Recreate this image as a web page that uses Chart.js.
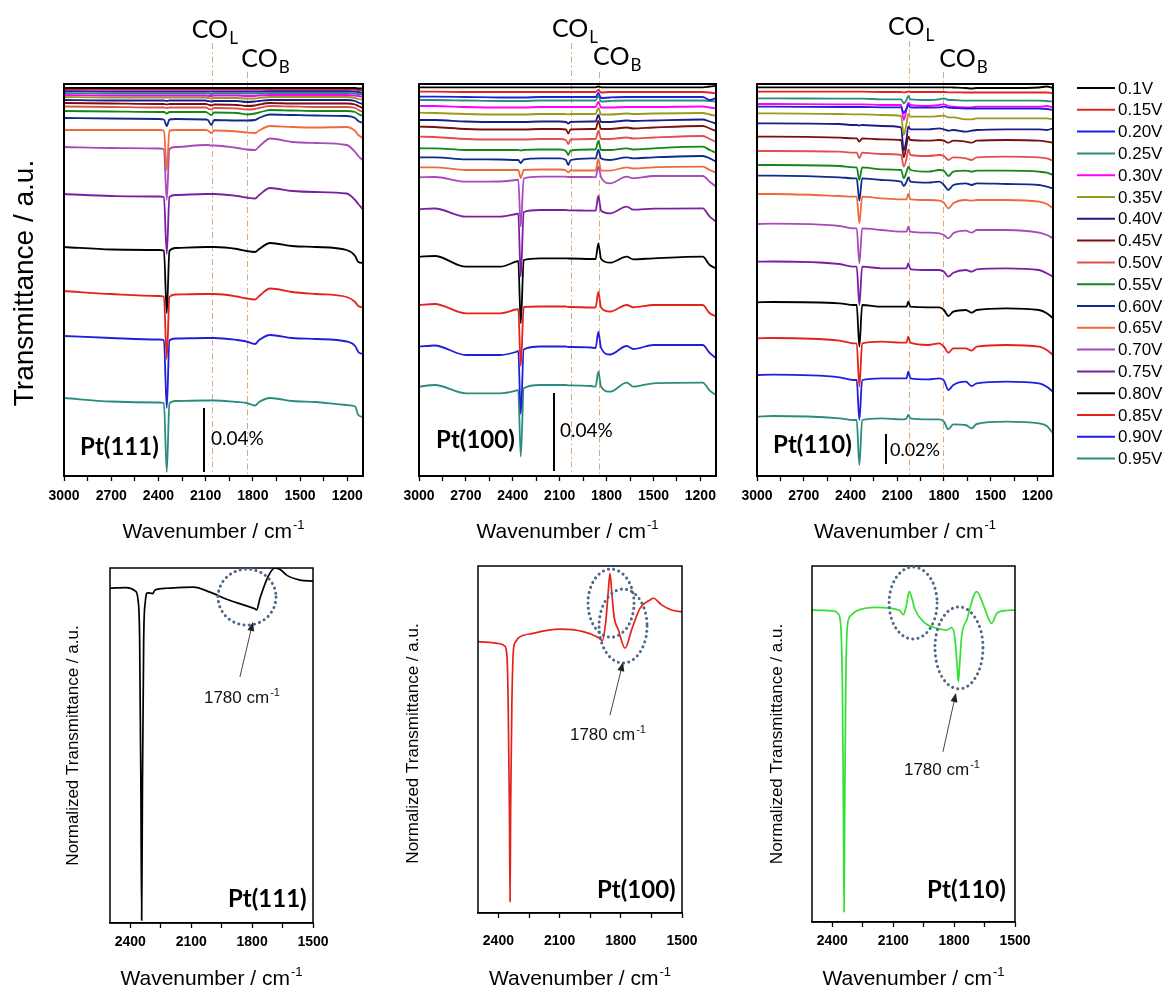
<!DOCTYPE html>
<html>
<head>
<meta charset="utf-8">
<script src="https://cdn.jsdelivr.net/npm/chart.js@4.4.1/dist/chart.umd.min.js"></script>
<style>
  html, body { margin: 0; padding: 0; background: #fff; }
  #wrap { position: relative; width: 1164px; height: 996px; overflow: hidden; }
  #wrap canvas { position: absolute; left: 0; top: 0; }
</style>
</head>
<body>
<div id="wrap">
  <canvas id="t111" width="1164" height="996"></canvas>
  <canvas id="t100" width="1164" height="996"></canvas>
  <canvas id="t110" width="1164" height="996"></canvas>
  <canvas id="n111" width="1164" height="996"></canvas>
  <canvas id="n100" width="1164" height="996"></canvas>
  <canvas id="n110" width="1164" height="996"></canvas>
</div>
<script>
// ---- data ------------------------------------------------------------------
const VOLTAGES = ['0.1V', '0.15V', '0.20V', '0.25V', '0.30V', '0.35V', '0.40V', '0.45V', '0.50V',
  '0.55V', '0.60V', '0.65V', '0.70V', '0.75V', '0.80V', '0.85V', '0.90V', '0.95V'];
const COLORS = ['#000000', '#e3241b', '#1f1fdb', '#2a8c7e', '#ff00ff', '#9c9a1c', '#1c1c86', '#7a0f0f', '#e2504e',
  '#13871a', '#0d2a8c', '#ee6a3a', '#a84bb8', '#7b1fa2', '#000000', '#e3221b', '#1e1edb', '#2a8c7e'];

const TOP_TICKS = [3000, 2850, 2700, 2550, 2400, 2250, 2100, 1950, 1800, 1650, 1500, 1350, 1200];
const TOP_TICK_LABELS = [3000, 2700, 2400, 2100, 1800, 1500, 1200];
const BOTTOM_TICKS = [2400, 2250, 2100, 1950, 1800, 1650, 1500];
const BOTTOM_TICK_LABELS = [2400, 2100, 1800, 1500];

// stacked spectra, Pt(111), one row per potential (0.1V first)
const WN_111 = [3000, 2700, 2400, 2365, 2347, 2330, 2290, 2100, 2085, 2065, 2045, 1900, 1840, 1786, 1760, 1690, 1550, 1400, 1204, 1150, 1130, 1100];
const PT111 = [
  [388, 388, 388, 388, 388, 388, 388, 388, 388, 388, 388, 388, 388, 388, 388, 388, 388, 388, 388, 388, 387.5, 387.5],
  [386.5, 386.5, 386.5, 386.5, 386.5, 386.5, 386.5, 386.5, 386.5, 386.5, 386.5, 386.5, 386.5, 386.5, 386.5, 386.5, 386.5, 386.5, 386.5, 386.5, 386, 385.5],
  [385, 384.5, 384.5, 384.5, 384.5, 384.5, 384.5, 384.5, 384.5, 384.5, 384.5, 384.5, 384.5, 384.5, 384.5, 385, 385, 385, 385, 384.5, 384, 383],
  [383, 382.5, 382.5, 382.5, 382.5, 382.5, 382.5, 382.5, 382.5, 382, 382.5, 382.5, 382.5, 382.5, 382.5, 383, 383, 383, 383, 382.5, 382, 381.5],
  [381, 380.5, 380.5, 380.5, 380.5, 380.5, 380.5, 380.5, 380, 380, 380.5, 380.5, 380, 380, 380.5, 381, 381, 381, 381, 380.5, 380, 379],
  [379, 378.5, 378.5, 378.5, 378.5, 378.5, 378.5, 378.5, 378, 377.5, 378, 378, 377.5, 377.5, 378, 379, 379, 379, 379, 378, 377, 376],
  [376, 375.5, 375.5, 375.5, 375, 375.5, 375.5, 375.5, 375, 374.5, 375, 375, 374, 374.5, 375, 376, 376, 376, 376, 375, 373.5, 372],
  [373, 372.5, 372, 372, 371.5, 372, 372, 372, 371.5, 370.5, 371.5, 371, 370, 370.5, 371.5, 373, 372.5, 372.5, 372.5, 371.5, 370, 368],
  [369.5, 369, 368.5, 368.5, 368, 368.5, 368.5, 368.5, 367.5, 366.5, 368, 367.5, 366.5, 367, 368, 370, 369.5, 369, 369, 368, 366, 364],
  [365, 364.5, 364, 364, 362.5, 364, 364, 364, 363, 361, 363.5, 363, 361.5, 362.5, 363.5, 366, 365.5, 365, 365, 364, 362, 360],
  [358, 357.5, 357, 356.5, 350, 356.5, 357, 356.5, 356, 351, 356, 355.5, 355.5, 356, 358, 361.5, 361, 360.5, 360, 358, 355, 353],
  [346, 346, 346, 345.5, 306, 345.5, 346, 346, 345.5, 343, 345.5, 344.5, 343.5, 343, 345.5, 350, 349, 348.5, 349, 345, 341, 338],
  [329, 328, 327.5, 327, 276, 327, 329, 331, 331, 330.5, 330.5, 328, 326.5, 326, 329.5, 337.5, 334, 333, 331, 324, 320, 315.5],
  [282, 280, 279.5, 279, 222, 279, 281, 282, 282, 282, 282, 280, 278.5, 277.5, 281, 288, 285, 284, 282.5, 276, 272, 266.5],
  [229, 226.5, 226, 225.5, 163, 225, 228, 229, 229, 229, 229, 227, 225, 224, 227, 233, 230, 229, 226, 220, 214, 213],
  [185, 182, 180, 179.5, 117, 179, 181.5, 182, 182, 182, 182, 179.5, 177.5, 176.5, 180, 187.5, 184, 182, 179, 174, 170, 168.5],
  [140, 138, 136.5, 136, 68, 135.5, 137.5, 138, 138, 138, 138, 136, 134.5, 132, 136, 141, 138, 137, 134.5, 130, 124, 122],
  [78, 74.5, 73.5, 73, 4, 72.5, 75, 75.5, 75.5, 75.5, 75.5, 74, 73, 70.5, 74, 78, 75, 74, 71, 69.5, 61, 59]
];

// stacked spectra, Pt(100)
const WN_100 = [3000, 2900, 2700, 2480, 2380, 2365, 2349, 2330, 2226, 2100, 2060, 2045, 2030, 1900, 1870, 1853, 1835, 1778, 1671, 1629, 1500, 1185, 1140, 1100];
const PT100 = [
  [388.7, 388.7, 388.7, 388.7, 388.7, 388.7, 388.7, 388.7, 388.7, 388.7, 388.7, 388.7, 388.7, 388.7, 388.7, 389.5, 388.7, 388.7, 388.7, 388.7, 388.7, 388.7, 389.5, 390],
  [384.3, 384.3, 384, 384, 384, 384, 384, 384, 384, 384, 384, 384, 384, 384, 384, 386, 383.5, 384, 384, 384, 384, 384, 383.5, 382.5],
  [379.3, 379.3, 379, 378.5, 378.5, 378.5, 378.5, 378.5, 379, 379, 379, 379, 379, 379, 379, 383, 378, 378.5, 379, 379, 379, 379, 376, 378],
  [376, 376, 375.5, 375, 375, 375, 375, 375, 375.5, 375.5, 375.5, 375.5, 375.5, 375.5, 375.5, 380, 374.5, 375, 375.5, 375.5, 375.5, 375.5, 375, 374.5],
  [370, 370, 369, 368.5, 368.5, 368.5, 368.5, 368.5, 369, 369, 369, 369, 369, 369, 369, 374, 368.5, 368.5, 369, 369, 369, 369.5, 368.5, 367.5],
  [363.3, 363, 362, 361.5, 361.5, 361.5, 361.5, 361.5, 362, 362, 362, 361.5, 362, 362, 362, 368, 361.5, 361.5, 362.5, 362, 362.5, 363, 361.5, 360],
  [356, 356, 354.5, 354, 354, 354, 354, 354, 354.5, 354.5, 354, 352.5, 354, 354.5, 354.5, 361, 354, 354, 355.5, 355, 355.5, 356.5, 354.5, 352.5],
  [349.3, 349, 347, 346.5, 346.5, 346.5, 346.5, 346.5, 347, 347, 346.5, 342.5, 346.5, 347, 347, 355, 347, 347, 348.5, 347.5, 348.5, 350, 347.5, 345],
  [339.3, 339, 337, 336.5, 336.5, 336.5, 336.5, 336.5, 337, 337, 336, 332, 336.5, 337, 337, 345, 337, 337, 338.5, 337.5, 338.5, 340, 337, 334],
  [327.7, 327.7, 326, 326, 326, 326, 325.5, 326, 326.5, 326.5, 325, 321, 325.5, 326.5, 326.5, 335, 326, 326, 327.7, 326.5, 327.7, 329.3, 326, 323.3],
  [318.7, 318.7, 316.7, 316.5, 316, 316, 313, 316.5, 317.7, 317.7, 316, 311, 316, 317.7, 317.5, 326, 317.5, 316, 318.7, 317.7, 318.7, 320, 317.7, 314.3],
  [308.7, 308.7, 306, 306, 306, 306, 298, 306, 306.5, 306.5, 305.5, 303.5, 305.5, 305.5, 305.5, 317, 305.5, 305.3, 308.7, 307.5, 308.7, 309.3, 306, 303.3],
  [298.7, 299, 294.3, 294.5, 296, 296.5, 249.3, 297.5, 299.3, 299.3, 299.3, 299, 299, 299, 298.7, 309.3, 298.7, 292.7, 299.3, 297.7, 300, 300, 294.3, 289.3],
  [266.7, 267.5, 259.3, 259.3, 262, 262.5, 199.3, 264, 266, 266, 266, 265.7, 265.7, 265.3, 265.3, 280, 265.3, 262.7, 269.3, 266.3, 267.3, 267.7, 259.3, 254.3],
  [219.3, 220, 209.3, 209.3, 214.3, 215, 152.7, 216, 217.7, 217.7, 217.7, 217.5, 217.5, 217, 217, 232.7, 217, 213.3, 219.3, 216.7, 217.7, 219.3, 211, 207.7],
  [171, 172, 162.7, 162.7, 166.5, 167, 110, 169, 169.5, 169.5, 169.5, 169, 169, 168.5, 168.5, 184, 168.5, 164.3, 171, 168.7, 171, 171, 162.7, 160],
  [129.3, 130.5, 121, 121, 124, 125, 62, 126.5, 129.5, 129.5, 129.5, 129, 129, 128.5, 128, 144, 128, 121.5, 130, 127, 131, 131, 123, 118],
  [89.3, 91, 82.7, 82.7, 85.3, 86, 19.3, 87.7, 91, 91, 91, 90.7, 90.7, 90, 89.3, 104.3, 89.3, 84.3, 93.3, 89.3, 92.7, 93.3, 85.3, 81]
];

// stacked spectra, Pt(110)
const WN_110 = [3000, 2900, 2470, 2380, 2360, 2343, 2325, 2200, 2075, 2058, 2040, 2029, 2015, 1900, 1830, 1800, 1772, 1740, 1660, 1622, 1590, 1400, 1190, 1140, 1100];
const PT110 = [
  [388.7, 388.7, 388.7, 388.7, 388.7, 388.7, 388.7, 388.7, 388.7, 388.7, 388.7, 388.7, 388.7, 388.7, 388.7, 388.7, 388.7, 388.5, 388, 387.5, 388, 388, 388.5, 389.5, 388],
  [384.3, 384.3, 384.3, 384.3, 384.3, 384.3, 384.3, 384, 384, 383.5, 384, 384.5, 384, 384, 384, 384, 383.7, 383.7, 383.5, 383.5, 383.5, 383.5, 383.5, 383.5, 383],
  [369.3, 369.3, 369, 369, 369, 369, 369, 368.7, 368.7, 363, 367.5, 371, 368.7, 368.3, 368.7, 369.3, 368.3, 368, 367.5, 367.5, 367.5, 367.5, 367.5, 367, 366],
  [377.7, 377.7, 377.3, 377.3, 377.3, 377.3, 377.3, 376.7, 376.7, 372.7, 376, 380, 376.7, 376, 376.7, 377.7, 376, 376, 375.3, 375.3, 375.3, 375.3, 375.3, 375, 374.3],
  [372, 372, 371.7, 371.7, 371.7, 371.7, 371.7, 371, 371, 356, 366.7, 373.3, 371, 370, 371, 371.7, 370, 369.3, 368.7, 368.7, 369.3, 369.3, 369.3, 370, 368.7],
  [362.7, 362.7, 362, 361.7, 361.7, 361.7, 361.7, 361, 360, 341, 352.7, 362, 359.3, 359.3, 360, 360.3, 358.7, 358.7, 356.7, 356.7, 357.7, 357.7, 357.7, 357.7, 356.7],
  [352.7, 352.7, 352, 351, 351, 350.5, 351, 350, 348.7, 325.3, 337.7, 349.3, 346.7, 346.7, 347.7, 346.7, 345.3, 346, 344.3, 345.3, 346, 346.7, 346.7, 346, 347.7],
  [339.3, 339.3, 338.3, 337.7, 337.7, 334.3, 337.7, 336.7, 336, 318.7, 331, 339.3, 336, 335.3, 336, 335.3, 333.3, 335.3, 334.3, 333.3, 335.3, 336, 335.3, 334.3, 333.3],
  [325, 325, 324.3, 323.3, 323.3, 317.7, 323.3, 322, 321, 309.3, 317.7, 326.7, 321, 320, 321, 320, 316, 318.7, 317.7, 316, 318.7, 319.3, 318.7, 317.7, 315.3],
  [311, 311, 310, 308.7, 308.7, 296, 308.7, 306.7, 306, 297.7, 304.3, 309.3, 306, 304.3, 306, 305.3, 300, 304.3, 305.3, 304.3, 305.3, 305.3, 304.3, 303.3, 301],
  [300.3, 300.3, 298.7, 297.7, 297.7, 275.3, 297.7, 296, 294.3, 290, 294.3, 298.7, 294.3, 293.3, 294.3, 291, 286, 291, 292.7, 291, 292.7, 292, 291, 289.3, 287.7],
  [282, 282, 280, 279.3, 279.3, 252.7, 279.3, 277.7, 276.7, 276.7, 276.7, 282, 276.7, 276, 275.3, 273.3, 267.7, 272.7, 276, 275.3, 276, 276, 274.3, 272, 267.7],
  [252, 252.3, 250, 247.7, 247.7, 212.7, 247.7, 246, 244.3, 244.3, 244.3, 249.3, 244.3, 243.3, 242.7, 241, 237.7, 242.7, 245.3, 243.3, 246, 246, 243.3, 241, 237.7],
  [214.3, 214.5, 212, 209.3, 209.3, 171, 209.3, 207.7, 207.7, 207.7, 207.7, 212.7, 206.7, 206, 206, 204.3, 199.3, 203.3, 206, 204.3, 206.7, 207.7, 206, 202.7, 199.3],
  [173.7, 174, 172.7, 171, 171, 129.3, 171, 169.3, 169.3, 169.3, 169.3, 174.3, 169.3, 168.7, 168.7, 166, 160, 164.3, 166, 163.3, 166, 167.7, 166, 162.7, 157.7],
  [137.7, 138, 135.3, 132.7, 132.7, 89.3, 132.7, 134.3, 133.3, 133.3, 133.3, 139.3, 133.3, 131, 132.7, 129.3, 123.3, 127.7, 127.7, 125.3, 129.3, 131, 129.3, 126, 121],
  [101, 101.3, 98.7, 96, 96, 56, 96, 97.7, 97.7, 97.7, 97.7, 104.3, 97.7, 96.7, 97.7, 95.5, 86, 91, 94.3, 90, 92.7, 94.3, 92.7, 89.3, 84.3],
  [59.3, 60, 57.7, 56, 56, 11, 56, 57.7, 56.7, 56.7, 57.7, 61, 57.7, 56.7, 56.7, 54.3, 46.7, 51.7, 51, 47.7, 52, 54.3, 52.7, 50, 42.7]
];

// normalized single spectra (bottom row)
const NORM_WN_111 = [2500, 2420, 2375, 2362, 2354, 2348, 2344, 2340, 2334, 2326, 2315, 2290, 2278, 2221, 2090, 2007, 1925, 1843, 1786, 1778, 1761, 1722, 1687, 1660, 1630, 1564, 1500];
const NORM_111 = [94.3, 94.5, 93.5, 91, 80, 40, 0.8, 40, 80, 90.5, 93, 92.8, 93.8, 94.3, 94.6, 93.2, 91.2, 89.6, 88.5, 88.2, 91.5, 97.5, 100, 99.5, 98, 96.6, 96.3];

const NORM_WN_100 = [2500, 2392, 2370, 2358, 2352, 2346, 2343, 2340, 2334, 2326, 2315, 2303, 2229, 2098, 1984, 1910, 1890, 1873, 1861, 1853, 1845, 1833, 1812, 1779, 1747, 1706, 1657, 1641, 1600, 1551, 1500];
const NORM_100 = [78.2, 77.6, 77, 74, 60, 30, 3.3, 30, 60, 76, 78.2, 79.2, 80.6, 81.8, 81.1, 79.4, 78.5, 84.4, 93, 97.9, 93, 85.4, 81.6, 76.3, 81.6, 87.8, 90.2, 90.7, 88.8, 87.3, 86.8];

const NORM_WN_110 = [2500, 2395, 2370, 2358, 2350, 2345, 2342, 2339, 2334, 2326, 2310, 2280, 2181, 2067, 2050, 2035, 2021, 2008, 1994, 1952, 1886, 1837, 1812, 1796, 1785, 1779, 1773, 1763, 1738, 1689, 1656, 1631, 1615, 1590, 1541, 1500];
const NORM_110 = [87.6, 87.4, 86.5, 83, 65, 30, 2.9, 30, 65, 83, 86, 87.4, 88.4, 87.5, 86.3, 89, 92.8, 91, 88, 84.4, 82.5, 82, 82.7, 79.7, 72, 67.5, 72, 80.1, 84.8, 92.8, 89.1, 85.3, 83.9, 86.7, 87.5, 87.6];

// ---- drawing ---------------------------------------------------------------
const PAGE_W = 1164, PAGE_H = 996, AXIS_H = 34;
const SANS = "'Liberation Sans', Arial, sans-serif";
const CALI = "Lato, 'Open Sans', sans-serif";

function pts(wn, ys) {
  return ys.map((y, i) => ({ x: wn[i], y: y }));
}

function supText(ctx, main, sup, x, base, size, align) {
  ctx.font = size + 'px ' + SANS;
  const w1 = ctx.measureText(main).width;
  const sSize = Math.round(size * 0.62);
  ctx.font = sSize + 'px ' + SANS;
  const w2 = ctx.measureText(sup).width;
  let left = x;
  if (align === 'center') left = x - (w1 + w2 + 1) / 2;
  ctx.textAlign = 'left';
  ctx.textBaseline = 'alphabetic';
  ctx.font = size + 'px ' + SANS;
  ctx.fillText(main, left, base);
  ctx.font = sSize + 'px ' + SANS;
  ctx.fillText(sup, left + w1 + 1, base - size * 0.42);
}

const decor = {
  id: 'decor',
  beforeDatasetsDraw(chart, args, o) {
    if (!o.bands) return;
    const { ctx, chartArea: a, scales: { x } } = chart;
    ctx.save();
    ctx.strokeStyle = '#dfa676';
    ctx.lineWidth = 1;
    ctx.setLineDash([6, 3, 1.5, 3]);
    o.bands.forEach(b => {
      const px = Math.round(x.getPixelForValue(b.wn)) + 0.5;
      ctx.beginPath();
      ctx.moveTo(px, a.top - b.rise);
      ctx.lineTo(px, a.bottom);
      ctx.stroke();
    });
    ctx.restore();
  },
  afterDraw(chart, args, o) {
    const { ctx, chartArea: a, scales: { x, y } } = chart;
    const P = (wn, v) => [x.getPixelForValue(wn), y.getPixelForValue(v)];
    ctx.save();
    ctx.fillStyle = '#000';
    ctx.strokeStyle = '#000';

    // frame
    ctx.lineWidth = o.frame;
    ctx.strokeRect(a.left, a.top, a.right - a.left, a.bottom - a.top);

    // CO band labels
    (o.bands || []).forEach(b => {
      const px = x.getPixelForValue(b.wn);
      ctx.textAlign = 'left';
      ctx.textBaseline = 'alphabetic';
      ctx.font = '25px ' + CALI;
      ctx.fillText('CO', px + b.dx, a.top - b.lift);
      const w = ctx.measureText('CO').width;
      ctx.font = '17px ' + CALI;
      ctx.fillText(b.sub, px + b.dx + w + 1, a.top - b.lift + 6);
    });

    // crystal face tag
    if (o.tag) {
      const [tx, ty] = P(o.tag.wn, o.tag.v);
      ctx.font = 'bold 24px ' + CALI;
      ctx.textAlign = 'left';
      ctx.textBaseline = 'alphabetic';
      ctx.fillText(o.tag.text, tx, ty);
    }

    // intensity scale bar
    if (o.bar) {
      const [bx, by1] = P(o.bar.wn, o.bar.from);
      const by2 = y.getPixelForValue(o.bar.to);
      ctx.lineWidth = 2;
      ctx.beginPath();
      ctx.moveTo(Math.round(bx), by1);
      ctx.lineTo(Math.round(bx), by2);
      ctx.stroke();
      ctx.font = o.bar.size + 'px ' + CALI;
      ctx.textAlign = 'left';
      ctx.fillText(o.bar.text, bx + o.bar.dx, y.getPixelForValue(o.bar.textV));
    }

    // dotted rings, arrow and peak note
    (o.rings || []).forEach(r => {
      const [cx, cy] = P(r.wn, r.v);
      ctx.save();
      ctx.strokeStyle = '#4d6789';
      ctx.lineWidth = 3;
      ctx.lineCap = 'round';
      ctx.setLineDash([0.1, 5.2]);
      ctx.beginPath();
      ctx.ellipse(cx, cy, r.rx, r.ry, 0, 0, Math.PI * 2);
      ctx.stroke();
      ctx.restore();
    });
    if (o.arrow) {
      const [x1, y1] = P(o.arrow.from[0], o.arrow.from[1]);
      const [x2, y2] = P(o.arrow.to[0], o.arrow.to[1]);
      const ang = Math.atan2(y2 - y1, x2 - x1);
      ctx.strokeStyle = '#444';
      ctx.fillStyle = '#222';
      ctx.lineWidth = 1;
      ctx.beginPath();
      ctx.moveTo(x1, y1);
      ctx.lineTo(x2 - 6 * Math.cos(ang), y2 - 6 * Math.sin(ang));
      ctx.stroke();
      ctx.beginPath();
      ctx.moveTo(x2, y2);
      ctx.lineTo(x2 - 9 * Math.cos(ang) + 3.5 * Math.sin(ang), y2 - 9 * Math.sin(ang) - 3.5 * Math.cos(ang));
      ctx.lineTo(x2 - 9 * Math.cos(ang) - 3.5 * Math.sin(ang), y2 - 9 * Math.sin(ang) + 3.5 * Math.cos(ang));
      ctx.closePath();
      ctx.fill();
    }
    if (o.note) {
      const [nx, ny] = P(o.note.wn, o.note.v);
      ctx.fillStyle = '#111';
      supText(ctx, '1780 cm', '-1', nx, ny, 17, 'center');
    }

    // axis titles
    ctx.fillStyle = '#000';
    supText(ctx, 'Wavenumber / cm', '-1', (a.left + a.right) / 2, a.bottom + o.xTitleDy, 21, 'center');
    if (o.yTitle) {
      ctx.save();
      ctx.translate(a.left - o.yTitle.dx, (a.top + a.bottom) / 2 + o.yTitle.dy);
      ctx.rotate(-Math.PI / 2);
      ctx.font = o.yTitle.size + 'px ' + SANS;
      ctx.textAlign = 'center';
      ctx.textBaseline = 'middle';
      ctx.fillText(o.yTitle.text, 0, 0);
      ctx.restore();
    }

    // potential legend
    if (o.legend) {
      chart.data.datasets.forEach((ds, i) => {
        const ly = a.top + o.legend.dy + i * o.legend.step;
        ctx.strokeStyle = ds.borderColor;
        ctx.lineWidth = 2;
        ctx.beginPath();
        ctx.moveTo(a.right + o.legend.dx, ly);
        ctx.lineTo(a.right + o.legend.dx + 38, ly);
        ctx.stroke();
        ctx.fillStyle = '#000';
        ctx.font = '17px ' + SANS;
        ctx.textAlign = 'left';
        ctx.textBaseline = 'middle';
        ctx.fillText(ds.label, a.right + o.legend.dx + 41, ly + 1);
      });
    }
    ctx.restore();
  }
};

function xAxis(min, max, ticks, labels, pad, border) {
  return {
    type: 'linear',
    reverse: true,
    min: min,
    max: max,
    afterFit: s => { s.height = AXIS_H; },
    afterBuildTicks: s => { s.ticks = ticks.map(v => ({ value: v })); },
    ticks: {
      autoSkip: false,
      maxRotation: 0,
      padding: pad,
      color: '#000',
      font: { family: SANS, size: 14, weight: 'bold' },
      callback: v => labels.includes(v) ? String(v) : ''
    },
    grid: { drawOnChartArea: false, tickLength: 5, tickWidth: 1.3, tickColor: '#000' },
    border: { color: '#000', width: border }
  };
}

function makeChart(id, datasets, area, xScale, yMax, deco) {
  return new Chart(document.getElementById(id), {
    type: 'line',
    data: { datasets: datasets },
    options: {
      responsive: false,
      animation: false,
      devicePixelRatio: 1,
      events: [],
      layout: {
        padding: {
          left: area.left,
          top: area.top,
          right: PAGE_W - area.right,
          bottom: PAGE_H - area.bottom - AXIS_H
        }
      },
      elements: { point: { radius: 0 }, line: { cubicInterpolationMode: 'monotone' } },
      plugins: { legend: { display: false }, tooltip: { enabled: false }, decor: deco },
      scales: {
        x: xScale,
        y: { display: false, min: 0, max: yMax }
      }
    },
    plugins: [decor]
  });
}

function stacked(wn, rows) {
  return rows.map((ys, i) => ({
    label: VOLTAGES[i],
    data: pts(wn, ys),
    borderColor: COLORS[i],
    borderWidth: 1.8,
    fill: false
  }));
}

// top row: potential-dependent spectra
makeChart('t111', stacked(WN_111, PT111), { left: 64, top: 84, right: 363, bottom: 476 },
  xAxis(1100, 3000, TOP_TICKS, TOP_TICK_LABELS, 7, 2), 392, {
    frame: 2,
    bands: [{ wn: 2061, sub: 'L', dx: -20, lift: 46, rise: 41 }, { wn: 1835, sub: 'B', dx: -6, lift: 17, rise: 12 }],
    tag: { text: 'Pt(111)', wn: 2898, v: 21 },
    bar: { wn: 2110, from: 4, to: 68, text: '0.04%', dx: 7, textV: 31, size: 19 },
    xTitleDy: 62,
    yTitle: { text: 'Transmittance / a.u.', dx: 39, dy: 3, size: 28 }
  });

makeChart('t100', stacked(WN_100, PT100), { left: 419, top: 84, right: 716, bottom: 476 },
  xAxis(1100, 3000, TOP_TICKS, TOP_TICK_LABELS, 7, 2), 392, {
    frame: 2,
    bands: [{ wn: 2028, sub: 'L', dx: -19, lift: 47, rise: 41 }, { wn: 1848, sub: 'B', dx: -6, lift: 19, rise: 12 }],
    tag: { text: 'Pt(100)', wn: 2891, v: 28 },
    bar: { wn: 2136, from: 5, to: 83, text: '0.04%', dx: 6, textV: 39, size: 19 },
    xTitleDy: 62
  });

makeChart('t110', stacked(WN_110, PT110), { left: 757, top: 84, right: 1053, bottom: 476 },
  xAxis(1100, 3000, TOP_TICKS, TOP_TICK_LABELS, 7, 2), 392, {
    frame: 2,
    bands: [{ wn: 2024, sub: 'L', dx: -21, lift: 49, rise: 43 }, { wn: 1804, sub: 'B', dx: -4, lift: 17, rise: 12 }],
    tag: { text: 'Pt(110)', wn: 2897, v: 23 },
    bar: { wn: 2172, from: 12, to: 42, text: '0.02%', dx: 4, textV: 20, size: 18 },
    xTitleDy: 62,
    legend: { dx: 24, dy: 4, step: 21.8 }
  });

// bottom row: normalized spectra
function single(wn, ys, color) {
  return [{ label: 'norm', data: pts(wn, ys), borderColor: color, borderWidth: 1.7, fill: false }];
}

makeChart('n111', single(NORM_WN_111, NORM_111, '#000000'), { left: 110, top: 568, right: 313, bottom: 923 },
  xAxis(1500, 2500, BOTTOM_TICKS, BOTTOM_TICK_LABELS, 6, 1.5), 100, {
    frame: 1.5,
    rings: [{ wn: 1825, v: 91.8, rx: 29, ry: 28 }],
    arrow: { from: [1860, 69.3], to: [1796, 84.8] },
    note: { wn: 1850, v: 62 },
    tag: { text: 'Pt(111)', wn: 1919, v: 4.5 },
    xTitleDy: 62,
    yTitle: { text: 'Normalized Transmittance / a.u.', dx: 37, dy: 0, size: 17 }
  });

makeChart('n100', single(NORM_WN_100, NORM_100, '#e3221b'), { left: 478, top: 566, right: 682, bottom: 913 },
  xAxis(1500, 2500, BOTTOM_TICKS, BOTTOM_TICK_LABELS, 15, 1.5), 100, {
    frame: 1.5,
    rings: [{ wn: 1848, v: 89.3, rx: 23, ry: 34 }, { wn: 1789, v: 82.7, rx: 24, ry: 37 }],
    arrow: { from: [1853, 57], to: [1789, 72.3] },
    note: { wn: 1863, v: 49.9 },
    tag: { text: 'Pt(100)', wn: 1917, v: 4.3 },
    xTitleDy: 72,
    yTitle: { text: 'Normalized Transmittance / a.u.', dx: 65, dy: 4, size: 17 }
  });

makeChart('n110', single(NORM_WN_110, NORM_110, '#33e033'), { left: 812, top: 566, right: 1015, bottom: 922 },
  xAxis(1500, 2500, BOTTOM_TICKS, BOTTOM_TICK_LABELS, 6, 1.5), 100, {
    frame: 1.5,
    rings: [{ wn: 2002, v: 89.6, rx: 24, ry: 36 }, { wn: 1776, v: 77, rx: 24, ry: 41 }],
    arrow: { from: [1855, 47.8], to: [1791, 64.3] },
    note: { wn: 1860, v: 41.3 },
    tag: { text: 'Pt(110)', wn: 1933, v: 6.7 },
    xTitleDy: 63,
    yTitle: { text: 'Normalized Transmittance / a.u.', dx: 35, dy: 0, size: 17 }
  });
</script>
</body>
</html>
